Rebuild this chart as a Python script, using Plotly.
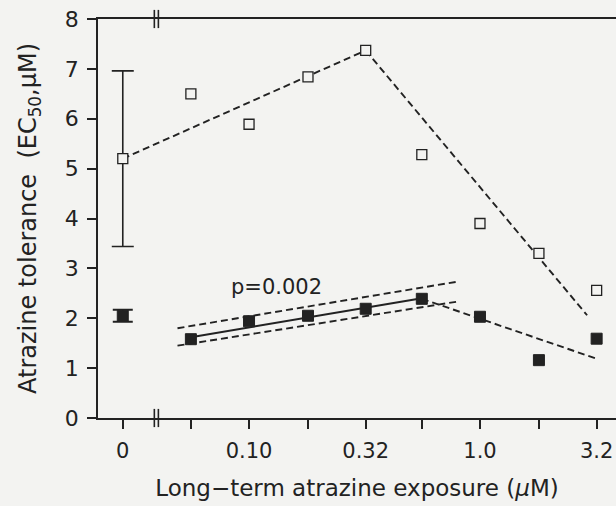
import plotly.graph_objects as go

# ---- data ----
CONTROL_X = 0.0284                 # plotting position of the 0 µM control on the broken log axis
BREAK_XS = [0.0389, 0.0405]        # the two strokes of the axis-break mark
conc = [0.056, 0.10, 0.18, 0.32, 0.56, 1.0, 1.8, 3.2]
open_vals = [6.50, 5.89, 6.84, 7.37, 5.28, 3.90, 3.30, 2.56]
filled_vals = [1.58, 1.94, 2.05, 2.19, 2.39, 2.03, 1.16, 1.59]
control_open, control_open_err = 5.20, 1.76
control_filled, control_filled_err = 2.05, 0.12

# fitted lines
open_rise_x, open_rise_y = [CONTROL_X, 0.32], [5.20, 7.37]
open_fall_x, open_fall_y = [0.32, 2.91], [7.37, 2.06]
reg_x, reg_y = [0.056, 0.56], [1.62, 2.40]
ci_x, ci_upper, ci_lower = [0.049, 0.79], [1.80, 2.73], [1.45, 2.33]
filled_fall_x, filled_fall_y = [0.56, 3.24], [2.39, 1.18]

tick_vals = [CONTROL_X] + conc
tick_text = ["0", "", "0.10", "", "0.32", "", "1.0", "", "3.2"]
y_ticks = list(range(0, 9))
Y_MIN, Y_MAX = 0, 8

INK = "#222222"
BG = "#f3f3f1"
FONT = "DejaVu Sans"
DASH = "7px,4px"

fig = go.Figure()

def line(x, y, dash=DASH, width=1.9):
    fig.add_trace(go.Scatter(x=x, y=y, mode="lines",
                             line=dict(color=INK, width=width, dash=dash),
                             hoverinfo="skip"))

line(open_rise_x, open_rise_y)
line(open_fall_x, open_fall_y)
line(ci_x, ci_upper)
line(ci_x, ci_lower)
line(reg_x, reg_y, dash="solid", width=2)
line(filled_fall_x, filled_fall_y)

# control points with error bars
fig.add_trace(go.Scatter(
    x=[CONTROL_X], y=[control_open], mode="markers",
    marker=dict(symbol="square", size=10, color=BG, line=dict(color=INK, width=1.3)),
    error_y=dict(type="data", array=[control_open_err], color=INK, thickness=1.6, width=11)))
fig.add_trace(go.Scatter(
    x=[CONTROL_X], y=[control_filled], mode="markers",
    marker=dict(symbol="square", size=11, color=INK, line=dict(color=INK, width=1)),
    error_y=dict(type="data", array=[control_filled_err], color=INK, thickness=2, width=10)))

# exposure series
fig.add_trace(go.Scatter(
    x=conc, y=open_vals, mode="markers",
    marker=dict(symbol="square", size=10, color=BG, line=dict(color=INK, width=1.3))))
fig.add_trace(go.Scatter(
    x=conc, y=filled_vals, mode="markers",
    marker=dict(symbol="square", size=11, color=INK, line=dict(color=INK, width=1))))

# axis-break marks on bottom and top axis lines
for yv in (Y_MIN, Y_MAX):
    fig.add_trace(go.Scatter(
        x=BREAK_XS, y=[yv] * len(BREAK_XS), mode="markers", cliponaxis=False,
        marker=dict(symbol="line-ns-open", size=13, color=INK,
                    line=dict(color=INK, width=1.6)),
        hoverinfo="skip"))

fig.add_annotation(x=-1.087, y=2.62, xref="x", yref="y", text="p=0.002",
                   showarrow=False, xanchor="left", yanchor="middle",
                   font=dict(family=FONT, size=21, color=INK))

fig.update_layout(
    width=616, height=506,
    margin=dict(l=98, r=0, t=19, b=88),
    paper_bgcolor=BG, plot_bgcolor=BG,
    showlegend=False,
    font=dict(family=FONT, size=21, color=INK),
    xaxis=dict(type="log", range=[-1.654, 0.589],
               tickmode="array", tickvals=tick_vals, ticktext=tick_text,
               ticks="outside", ticklen=9, tickwidth=1.6, tickcolor=INK,
               ticklabelstandoff=4,
               showline=True, linecolor=INK, linewidth=1.8, mirror=True,
               showgrid=False, zeroline=False,
               tickfont=dict(family=FONT, size=21, color=INK),
               title=dict(text="Long\u2212term atrazine exposure (<i>\u00b5</i>M)",
                          font=dict(family=FONT, size=23, color=INK), standoff=18)),
    yaxis=dict(range=[Y_MIN, Y_MAX], tickmode="array", tickvals=y_ticks,
               ticks="outside", ticklen=9, tickwidth=1.6, tickcolor=INK,
               ticklabelstandoff=4,
               showline=True, linecolor=INK, linewidth=1.8,
               showgrid=False, zeroline=False,
               tickfont=dict(family=FONT, size=22, color=INK),
               title=dict(text="Atrazine tolerance\u00a0 (EC<sub>50</sub>,\u00b5M)",
                          font=dict(family=FONT, size=24, color=INK), standoff=21)),
)

fig.write_html("out.html",
               config={"displayModeBar": False},
               post_script="document.body.style.margin='0';"
                           "document.body.style.background='#f3f3f1';")
